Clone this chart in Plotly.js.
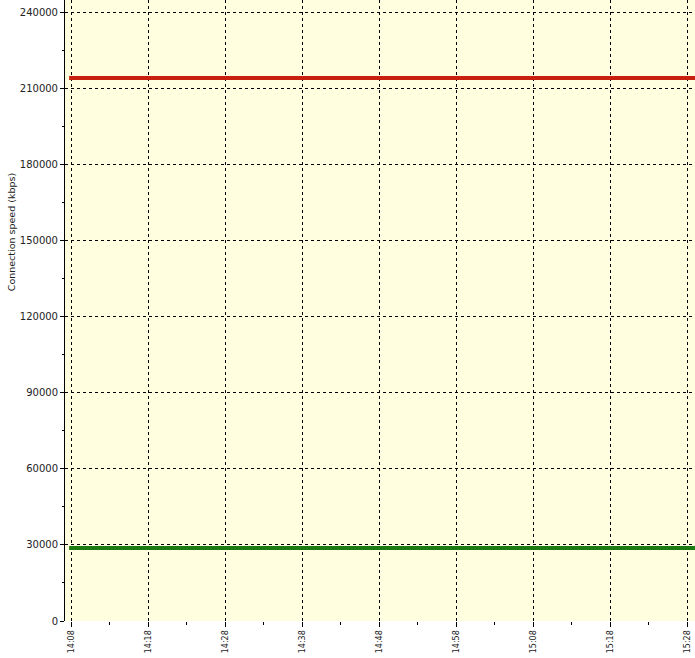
<!DOCTYPE html>
<html>
<head>
<meta charset="utf-8">
<script src="https://cdn.plot.ly/plotly-3.0.1.min.js"></script>
<style>html,body{margin:0;padding:0;background:#fff;}#chart{width:695px;height:658px;}</style>
</head>
<body>
<div id="chart"></div>
<script>
// Data
const day = '2024-01-01 ';
const times = ['14:07:45', '15:29:30'];
const downloadKbps = [214000, 214000];
const uploadKbps = [28800, 28800];
const xTickLabels = ['14:08','14:18','14:28','14:38','14:48','14:58','15:08','15:18','15:28'];
const yTickVals = [0, 30000, 60000, 90000, 120000, 150000, 180000, 210000, 240000];

const xs = times.map(t => day + t);
const font = {family: 'DejaVu Sans, Tahoma, sans-serif', size: 10, color: '#222'};
const xfont = {family: 'DejaVu Sans, Tahoma, sans-serif', size: 8, color: '#222'};

const traces = [
  {x: xs, y: downloadKbps, type: 'scatter', mode: 'lines', name: 'Download',
   line: {color: '#C8200F', width: 4}, hoverinfo: 'skip'},
  {x: xs, y: uploadKbps, type: 'scatter', mode: 'lines', name: 'Upload',
   line: {color: '#1B7A12', width: 4}, hoverinfo: 'skip'}
];

const layout = {
  width: 695, height: 658,
  margin: {l: 65, r: 0, t: 0, b: 37, pad: 0},
  paper_bgcolor: '#ffffff',
  plot_bgcolor: '#FFFFDF',
  showlegend: false,
  font: font,
  xaxis: {
    type: 'date',
    range: [day + '14:07:13', day + '15:29:02'],
    tickvals: xTickLabels.map(t => day + t),
    ticktext: xTickLabels,
    tickangle: -90,
    ticks: 'outside', ticklen: 5, tickcolor: '#000', tickwidth: 1,
    showgrid: true, gridcolor: '#000', gridwidth: 1, griddash: '3px,3px',
    showline: false, zeroline: false,
    minor: {dtick: 300000, tick0: day + '14:08', ticks: 'outside', ticklen: 3, tickcolor: '#000', showgrid: false},
    tickfont: xfont
  },
  yaxis: {
    range: [0, 244729],
    tickvals: yTickVals,
    ticktext: yTickVals.map(String),
    ticks: 'outside', ticklen: 4, tickcolor: '#000', tickwidth: 1,
    showgrid: true, gridcolor: '#000', gridwidth: 1, griddash: '3px,3px',
    showline: true, linecolor: '#000', linewidth: 1,
    zeroline: false,
    minor: {dtick: 15000, tick0: 0, ticks: 'outside', ticklen: 2, tickcolor: '#000', showgrid: false},
    tickfont: font
  },
  annotations: [{
    text: 'Connection speed (kbps)',
    xref: 'paper', yref: 'paper',
    x: -54 / 630, y: 0.626,
    xanchor: 'center', yanchor: 'middle',
    textangle: -90, showarrow: false,
    font: {family: 'DejaVu Sans, Tahoma, sans-serif', size: 9.5, color: '#222'}
  }]
};

Plotly.newPlot('chart', traces, layout, {displayModeBar: false, staticPlot: true});
</script>
</body>
</html>
